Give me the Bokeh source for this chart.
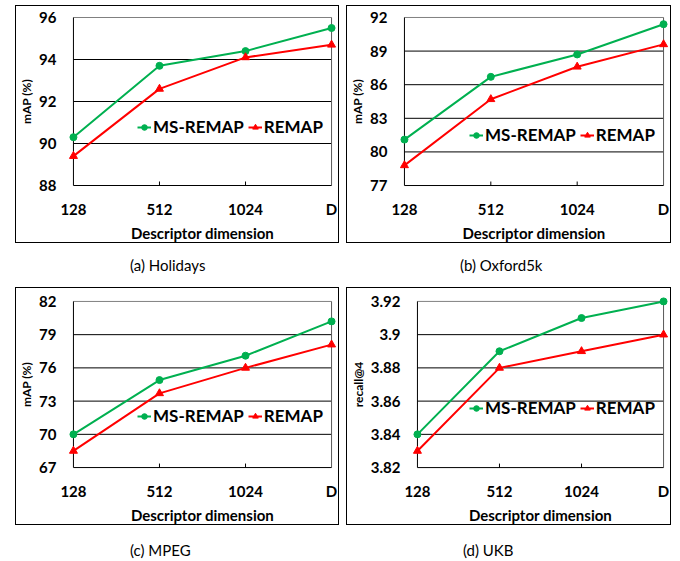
import math
from bokeh.plotting import figure
from bokeh.layouts import column, row
from bokeh.models import Range1d, FixedTicker, Legend, LegendItem, Div
from bokeh.embed import file_html
from bokeh.resources import INLINE

# ---- data ----
dims = ["128", "512", "1024", "D"]

holidays_ms = [90.3, 93.7, 94.4, 95.5]
holidays_re = [89.4, 92.6, 94.1, 94.7]
holidays_ticks = [88, 90, 92, 94, 96]
holidays_labels = ["88", "90", "92", "94", "96"]

oxford_ms = [81.1, 86.7, 88.7, 91.4]
oxford_re = [78.8, 84.7, 87.6, 89.6]
oxford_ticks = [77, 80, 83, 86, 89, 92]
oxford_labels = ["77", "80", "83", "86", "89", "92"]

mpeg_ms = [70.0, 74.9, 77.1, 80.2]
mpeg_re = [68.5, 73.7, 76.0, 78.1]
mpeg_ticks = [67, 70, 73, 76, 79, 82]
mpeg_labels = ["67", "70", "73", "76", "79", "82"]

ukb_ms = [3.84, 3.89, 3.91, 3.92]
ukb_re = [3.83, 3.88, 3.89, 3.90]
ukb_ticks = [3.82, 3.84, 3.86, 3.88, 3.90, 3.92]
ukb_labels = ["3.82", "3.84", "3.86", "3.88", "3.9", "3.92"]

captions = ["(a) Holidays", "(b) Oxford5k", "(c) MPEG", "(d) UKB"]
ylabels = ["mAP (%)", "mAP (%)", "mAP (%)", "recall@4"]
series_names = ["MS-REMAP", "REMAP"]

GREEN = "#00B050"
RED = "#FF0000"
FONT = "Lato"
PADPX = 5  # frame padding so edge markers are not cut


def panel(ms, re, ticks, labels, ylabel, w, h, left, right, top, bottom, leg_xy, margin):
    xs = list(range(len(dims)))
    n = len(dims) - 1
    fw = w - left - right
    fh = h - top - bottom
    px = PADPX * n / (fw - 2 * PADPX)
    yspan = ticks[-1] - ticks[0]
    py = PADPX * yspan / (fh - 2 * PADPX)
    y0, y1 = ticks[0], ticks[-1]
    p = figure(width=w, height=h, output_backend="svg", toolbar_location=None,
               x_range=Range1d(-px, n + px), y_range=Range1d(y0 - py, y1 + py),
               min_border_left=left, min_border_right=right,
               min_border_top=top, min_border_bottom=bottom,
               styles={"border": "1px solid black"}, margin=margin)
    p.background_fill_color = "white"
    p.border_fill_color = "white"
    p.outline_line_color = None

    p.xaxis.ticker = FixedTicker(ticks=xs)
    p.xaxis.major_label_overrides = {i: d for i, d in enumerate(dims)}
    p.yaxis.ticker = FixedTicker(ticks=ticks)
    p.yaxis.major_label_overrides = {t: l for t, l in zip(ticks, labels)}

    for ax in (p.xaxis, p.yaxis):
        ax.axis_line_color = None
        ax.major_tick_line_color = None
        ax.major_tick_in = 0
        ax.major_tick_out = 0
        ax.minor_tick_line_color = None
        ax.major_label_text_font = FONT
        ax.major_label_text_font_style = "bold"
        ax.major_label_text_font_size = "15px"
        ax.major_label_text_color = "black"
        ax.axis_label_text_font = FONT
        ax.axis_label_text_font_style = "bold"
        ax.axis_label_text_color = "black"
    p.xaxis.major_label_standoff = 9
    p.yaxis.major_label_standoff = 12
    p.xaxis.axis_label = "Descriptor dimension"
    p.xaxis.axis_label_text_font_size = "15px"
    p.xaxis.axis_label_standoff = 3
    p.yaxis.axis_label = ylabel
    p.yaxis.axis_label_text_font_size = "12px"
    p.yaxis.axis_label_standoff = 2

    p.xgrid.grid_line_color = None
    p.ygrid.grid_line_color = None

    # horizontal gridlines between first and last category
    p.segment(x0=[xs[0]] * (len(ticks) - 2), x1=[xs[-1]] * (len(ticks) - 2),
              y0=ticks[1:-1], y1=ticks[1:-1], line_color="black", line_width=1)
    # plot area border
    p.segment(x0=[xs[0]], x1=[xs[-1]], y0=[y1], y1=[y1], line_color="#808080", line_width=1)
    p.segment(x0=[xs[-1]], x1=[xs[-1]], y0=[y0], y1=[y1], line_color="#595959", line_width=1)
    # axis lines
    p.segment(x0=[xs[0]], x1=[xs[0]], y0=[y0], y1=[y1], line_color="black", line_width=1)
    p.segment(x0=[xs[0]], x1=[xs[-1]], y0=[y0], y1=[y0], line_color="black", line_width=1)
    # inward x ticks
    p.ray(x=xs[1:-1], y=[y0] * (len(xs) - 2), length=4, length_units="screen",
          angle=math.pi / 2, line_color="black", line_width=1)

    l1 = p.line(xs, ms, line_color=GREEN, line_width=2)
    s1 = p.scatter(xs, ms, marker="circle", size=7, fill_color=GREEN, line_color=GREEN)
    l2 = p.line(xs, re, line_color=RED, line_width=2)
    s2 = p.scatter(xs, re, marker="triangle", size=8, fill_color=RED, line_color=RED)

    leg = Legend(items=[LegendItem(label=series_names[0], renderers=[l1, s1]),
                        LegendItem(label=series_names[1], renderers=[l2, s2])],
                 orientation="horizontal", location=leg_xy,
                 glyph_width=14, glyph_height=14, label_standoff=2, spacing=4,
                 padding=0, margin=0, border_line_alpha=0, background_fill_alpha=0,
                 label_text_font=FONT, label_text_font_style="bold",
                 label_text_font_size="17px", label_text_color="black")
    p.add_layout(leg, "center")
    return p


pa = panel(holidays_ms, holidays_re, holidays_ticks, holidays_labels, ylabels[0],
           324, 238, 49, 4, 6, 54, (69, 53), (5, 0, 0, 15))
pb = panel(oxford_ms, oxford_re, oxford_ticks, oxford_labels, ylabels[1],
           325, 238, 49, 4, 5, 54, (70, 45), (5, 0, 0, 7))
pc = panel(mpeg_ms, mpeg_re, mpeg_ticks, mpeg_labels, ylabels[2],
           324, 238, 49, 4, 8, 52, (69, 46), (0, 0, 0, 15))
pd = panel(ukb_ms, ukb_re, ukb_ticks, ukb_labels, ylabels[3],
           325, 238, 62, 4, 7, 52, (57, 54), (0, 0, 0, 7))

cap_style = {"font-family": FONT, "font-size": "15px", "color": "black"}
ca = Div(text=captions[0], width=300, height=44, margin=(0, 0, 0, 130),
         styles=dict(cap_style, **{"line-height": "44px"}))
cb = Div(text=captions[1], width=200, height=44, margin=(0, 0, 0, 30),
         styles=dict(cap_style, **{"line-height": "44px"}))
cc = Div(text=captions[2], width=300, height=33, margin=(0, 0, 0, 130),
         styles=dict(cap_style, **{"line-height": "50px"}))
cd = Div(text=captions[3], width=200, height=33, margin=(0, 0, 0, 33),
         styles=dict(cap_style, **{"line-height": "50px"}))

layout = column(row(pa, pb), row(ca, cb), row(pc, pd), row(cc, cd), spacing=0)

open("out.html", "w").write(file_html(layout, INLINE))
